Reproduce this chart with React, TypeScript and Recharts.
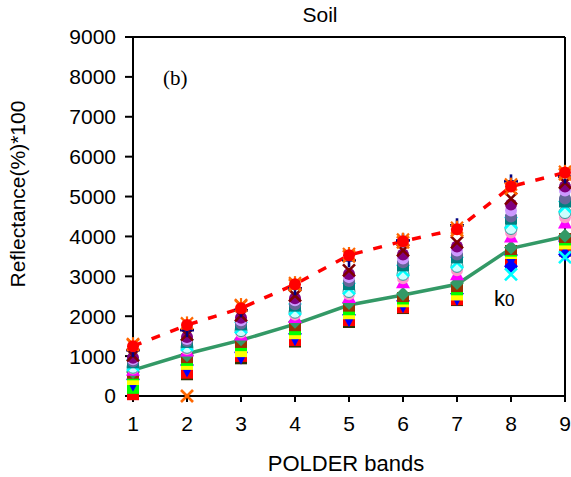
import React from "react";
import {
  ComposedChart,
  Line,
  Scatter,
  XAxis,
  YAxis,
  ReferenceLine,
} from "recharts";

const BANDS = [1, 2, 3, 4, 5, 6, 7, 8, 9];
const Y_TICKS = [0, 1000, 2000, 3000, 4000, 5000, 6000, 7000, 8000, 9000];

// k0 curve and the upper envelope (red dashed)
const K0 = [650, 1060, 1400, 1800, 2280, 2530, 2800, 3700, 4000];
const UPPER = [1250, 1780, 2200, 2800, 3530, 3880, 4180, 5250, 5600];

// individual soil samples
const ORANGE_STAR = [1300, 1820, 2280, 2830, 3560, 3920, 4220, 5300, 5620];
const ORANGE_X = [1280, 0, 2260, 2780, 3500, 3850, 4150, 5200, 5560];
const NAVY_PLUS = [1150, 1650, 2150, 2700, 3400, 3900, 4280, 5380, 5500];
const MAROON_X = [1020, 1540, 2020, 2520, 3150, 3650, 3850, 4950, 5350];
const PURPLE = [960, 1480, 1960, 2450, 3060, 3550, 3750, 4800, 5250];
const LAVENDER = [920, 1430, 1900, 2400, 2980, 3450, 3650, 4650, 5150];
const SLATE = [870, 1380, 1820, 2300, 2880, 3350, 3550, 4500, 4950];
const TEAL = [820, 1330, 1770, 2240, 2780, 3250, 3450, 4420, 4850];
const CYAN_X = [780, 1280, 1720, 2180, 2700, 3150, 3350, 4350, 4750];
const LIGHT_CYAN = [720, 1220, 1640, 2100, 2620, 3050, 3250, 4200, 4600];
const PINK = [690, 1180, 1590, 2040, 2550, 2950, 3150, 4100, 4480];
const MAGENTA = [660, 1140, 1540, 1980, 2480, 2850, 3050, 4000, 4350];
const GREEN_DIAMOND = [600, 1020, 1420, 1860, 2330, 2560, 2830, 3720, 4020];
const BROWN = [560, 950, 1330, 1750, 2240, 2480, 2730, 3660, 3960];
const LIME = [520, 880, 1250, 1650, 2150, 2420, 2650, 3620, 3900];
const YELLOW = [400, 780, 1100, 1550, 2050, 2350, 2520, 3560, 3800];
const RED_SQ = [20, 560, 980, 1380, 1880, 2200, 2400, 3400, 3700];
const OLIVE = [60, 520, 920, 1340, 1830, 2180, 2380, 3320, 3620];
const BLUE_TRI = [280, 640, 960, 1420, 1900, 2250, 2430, 3400, 3750];
const BLUE_DIAMOND = [null, null, null, null, null, null, null, 3250, 3550];
const CYAN_LOW = [null, null, null, null, null, null, null, 3050, 3480];
const GREEN_LOW = [180, null, null, null, null, null, null, null, null];

const rows = BANDS.map((b, i) => ({ band: b, k0: K0[i], upper: UPPER[i] }));

function pts(vals: (number | null)[]) {
  return BANDS.map((b, i) => ({ band: b, v: vals[i] })).filter((p) => p.v != null);
}

function Mark({ cx, cy, kind, fill, stroke }: any) {
  if (cx == null || cy == null) return null;
  const s = 6;
  const sw = 2.6;
  switch (kind) {
    case "circle":
      return <circle cx={cx} cy={cy} r={s} fill={fill} stroke={stroke || "none"} />;
    case "square":
      return <rect x={cx - s} y={cy - s + 1} width={2 * s} height={2 * s - 2} fill={fill} stroke={stroke || "none"} />;
    case "diamond":
      return (
        <polygon
          points={`${cx},${cy - 7} ${cx + 7},${cy} ${cx},${cy + 7} ${cx - 7},${cy}`}
          fill={fill}
        />
      );
    case "tri":
      return (
        <polygon points={`${cx},${cy - 7} ${cx + 7},${cy + 6} ${cx - 7},${cy + 6}`} fill={fill} />
      );
    case "triDown":
      return (
        <polygon points={`${cx - 7},${cy - 6} ${cx + 7},${cy - 6} ${cx},${cy + 7}`} fill={fill} />
      );
    case "x":
      return (
        <g stroke={fill} strokeWidth={sw}>
          <line x1={cx - s} y1={cy - s} x2={cx + s} y2={cy + s} />
          <line x1={cx - s} y1={cy + s} x2={cx + s} y2={cy - s} />
        </g>
      );
    case "plus":
      return (
        <g stroke={fill} strokeWidth={sw}>
          <line x1={cx - 7} y1={cy} x2={cx + 7} y2={cy} />
          <line x1={cx} y1={cy - 7} x2={cx} y2={cy + 7} />
        </g>
      );
    case "star":
      return (
        <g stroke={fill} strokeWidth={2.2}>
          <line x1={cx - s} y1={cy - s} x2={cx + s} y2={cy + s} />
          <line x1={cx - s} y1={cy + s} x2={cx + s} y2={cy - s} />
          <line x1={cx} y1={cy - 7} x2={cx} y2={cy + 7} />
        </g>
      );
    default:
      return null;
  }
}

const SERIES: { vals: (number | null)[]; kind: string; fill: string; stroke?: string }[] = [
  { vals: OLIVE, kind: "square", fill: "#333300" },
  { vals: RED_SQ, kind: "square", fill: "#ff0000" },
  { vals: GREEN_LOW, kind: "square", fill: "#00ff00" },
  { vals: BLUE_DIAMOND, kind: "diamond", fill: "#0000ff" },
  { vals: BLUE_TRI, kind: "triDown", fill: "#0000ff" },
  { vals: CYAN_LOW, kind: "x", fill: "#00ffff" },
  { vals: YELLOW, kind: "square", fill: "#ffff00" },
  { vals: LIME, kind: "square", fill: "#00ff00" },
  { vals: BROWN, kind: "square", fill: "#993300" },
  { vals: GREEN_DIAMOND, kind: "diamond", fill: "#339966" },
  { vals: MAGENTA, kind: "tri", fill: "#ff00ff" },
  { vals: PINK, kind: "circle", fill: "#ff99cc" },
  { vals: LIGHT_CYAN, kind: "circle", fill: "#ccffff", stroke: "#339999" },
  { vals: CYAN_X, kind: "x", fill: "#00ffff" },
  { vals: TEAL, kind: "square", fill: "#008080" },
  { vals: SLATE, kind: "circle", fill: "#666699" },
  { vals: LAVENDER, kind: "circle", fill: "#cc99ff" },
  { vals: PURPLE, kind: "circle", fill: "#800080" },
  { vals: MAROON_X, kind: "x", fill: "#800000" },
  { vals: NAVY_PLUS, kind: "plus", fill: "#000080" },
  { vals: ORANGE_X, kind: "x", fill: "#ff6600" },
  { vals: ORANGE_STAR, kind: "star", fill: "#ff6600" },
];

const FONT = "'Liberation Sans', Arial, sans-serif";
const tickStyle = { fontSize: 21, fill: "#000", fontFamily: FONT };

export default function App() {
  return (
    <div style={{ position: "absolute", left: 0, top: 0, width: 571, height: 477, background: "#fff", fontFamily: FONT }}>
      <ComposedChart
        width={571}
        height={477}
        data={rows}
        margin={{ top: 37, right: 6, bottom: 0, left: 0 }}
      >
        <XAxis
          dataKey="band"
          type="number"
          domain={[1, 9]}
          ticks={BANDS}
          tick={tickStyle}
          tickSize={6}
          tickMargin={14}
          height={81}
          stroke="#000"
          strokeWidth={2}
          tickLine={{ stroke: "#000", strokeWidth: 2 }}
        />
        <YAxis
          type="number"
          domain={[0, 9000]}
          ticks={Y_TICKS}
          tick={tickStyle}
          tickSize={8}
          tickMargin={9}
          width={133}
          stroke="#000"
          strokeWidth={2}
          tickLine={{ stroke: "#000", strokeWidth: 2 }}
        />
        <Line
          dataKey="k0"
          stroke="#339966"
          strokeWidth={3.5}
          dot={false}
          isAnimationActive={false}
        />
        {SERIES.map((s, i) => (
          <Scatter
            key={i}
            data={pts(s.vals)}
            dataKey="v"
            isAnimationActive={false}
            shape={(p: any) => <Mark {...p} kind={s.kind} fill={s.fill} stroke={s.stroke} />}
          />
        ))}
        <Line
          dataKey="upper"
          stroke="#ff0000"
          strokeWidth={3.5}
          strokeDasharray="9 11"
          dot={{ r: 6, fill: "#ff0000", stroke: "#ff0000", strokeWidth: 0 }}
          isAnimationActive={false}
        />
        <ReferenceLine y={9000} stroke="#000" strokeWidth={2} />
        <ReferenceLine x={9} stroke="#000" strokeWidth={2} />
      </ComposedChart>
      <div style={{ position: "absolute", left: 320, top: 3, transform: "translateX(-50%)", fontSize: 21 }}>Soil</div>
      <div style={{ position: "absolute", left: 163, top: 66, fontSize: 21, fontFamily: "'Liberation Serif', 'Times New Roman', serif" }}>
        (b)
      </div>
      <div style={{ position: "absolute", left: 494, top: 288, fontSize: 22, lineHeight: 1 }}>
        k<span style={{ fontSize: 17 }}>0</span>
      </div>
      <div style={{ position: "absolute", left: 346, top: 451, transform: "translateX(-50%)", fontSize: 22, whiteSpace: "nowrap" }}>
        POLDER bands
      </div>
      <div
        style={{
          position: "absolute",
          left: 18,
          top: 194,
          transform: "translate(-50%, -50%) rotate(-90deg)",
          fontSize: 21,
          whiteSpace: "nowrap",
        }}
      >
        Reflectance(%)*100
      </div>
    </div>
  );
}
